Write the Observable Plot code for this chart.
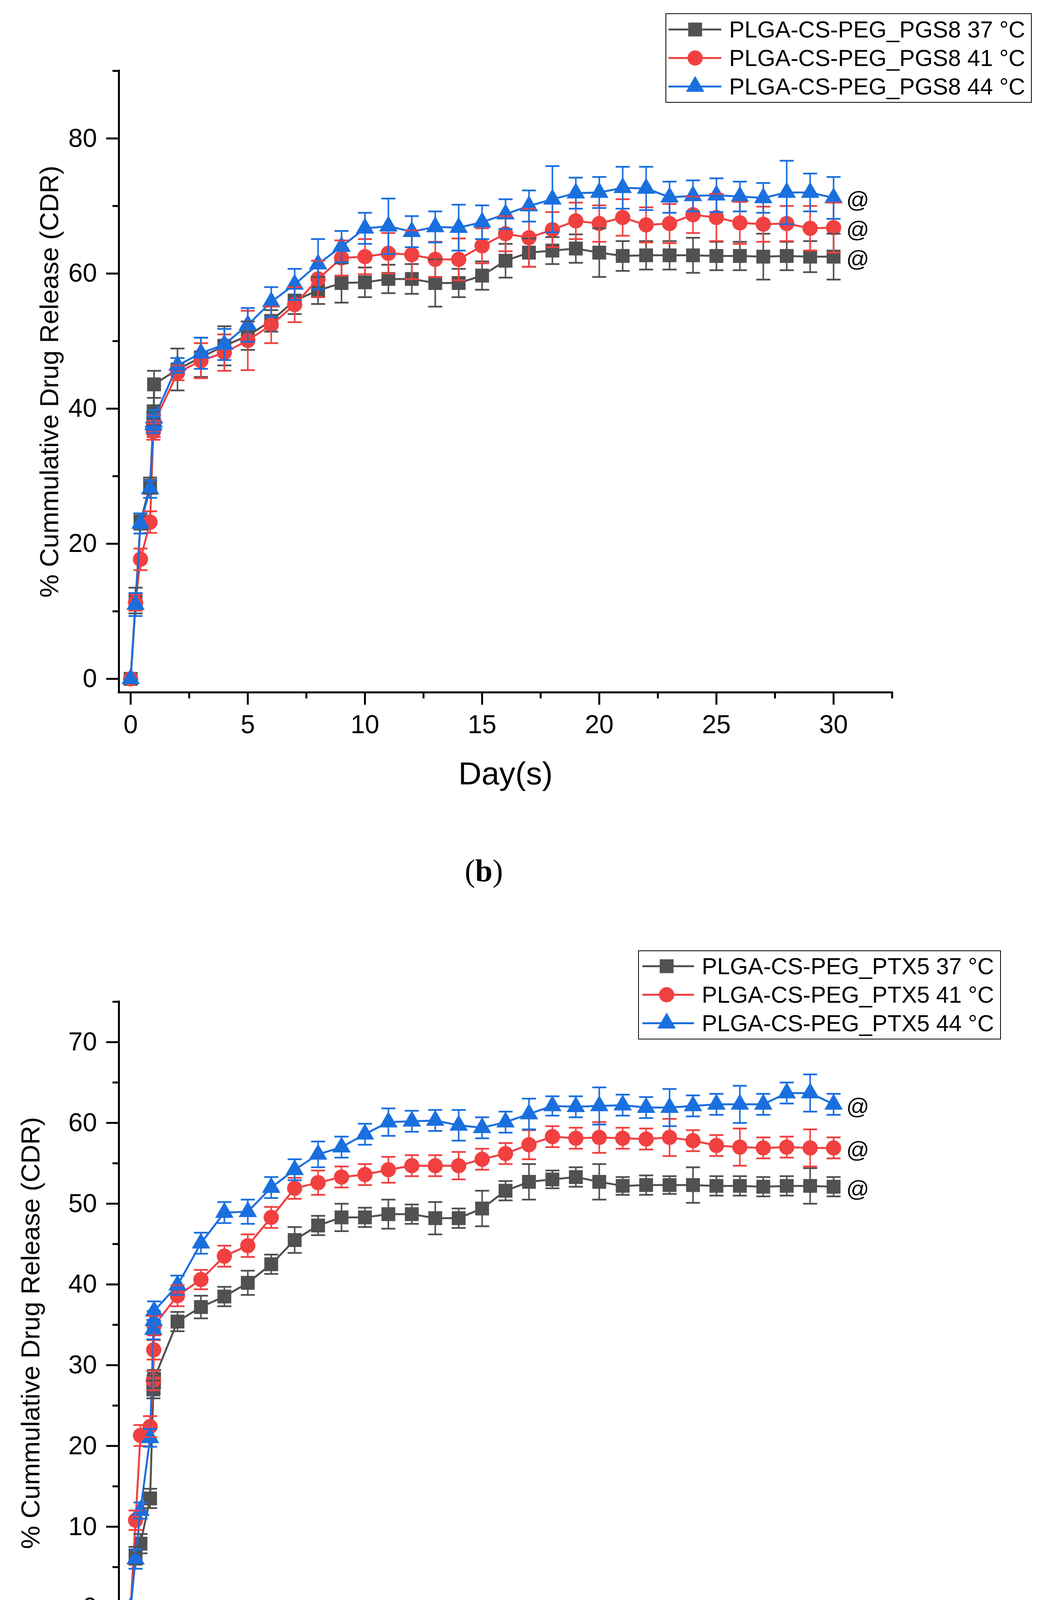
<!DOCTYPE html>
<html>
<head>
<meta charset="utf-8">
<script src="https://cdn.jsdelivr.net/npm/d3@7"></script>
<script src="https://cdn.jsdelivr.net/npm/@observablehq/plot@0.6"></script>
<style>
  body { margin: 0; background: #fff; }
  #page { position: relative; width: 2681px; height: 4687px; background: #fff; overflow: hidden;
          font-family: "Liberation Sans", Arial, sans-serif; color: #000; }
  .chart { position: absolute; left: 0; line-height: 0; }
  .legend { position: absolute; border: 2px solid #000; box-sizing: border-box; background: #fff; }
  .legend .row { display: flex; align-items: center; height: 73px; font-size: 59px; white-space: nowrap; }
  .legend svg { flex: none; }
  .caption { position: absolute; transform: translateX(-50%); white-space: nowrap;
             font: 80px/80px "Liberation Serif", "Times New Roman", serif; }
</style>
</head>
<body>
<div id="page"></div>
<script>
// sampling times (days); the first points are hours of day 0-1
const days = [0, 0.21, 0.42, 0.83, 0.97, 0.985, 1, 2, 3, 4, 5, 6, 7, 8, 9, 10,
  11, 12, 13, 14, 15, 16, 17, 18, 19, 20, 21, 22, 23, 24, 25, 26, 27, 28, 29, 30];

const temps = ["37 °C", "41 °C", "44 °C"];
const colors = ["#515151", "#F14040", "#1A6FDF"];
const symbols = ["square", "circle", "triangle"];
const markerR = [20, 19.5, 17.5];

// (b) PLGA-CS-PEG_PGS8
const pgs8_37 = [0, 11.6, 23.3, 28.6, 38.6, 39.5, 43.6, 45.8, 47.6, 49.3, 50.8, 53.0, 56.0, 57.5, 58.6, 58.7,
  59.2, 59.2, 58.6, 58.6, 59.7, 61.9, 63.1, 63.4, 63.7, 63.1, 62.6, 62.7, 62.7, 62.7, 62.6, 62.6, 62.5, 62.6, 62.5, 62.5];
const pgs8_37_sd = [0, 1.9, 1.2, 1.2, 1.0, 1.0, 2.0, 3.1, 2.9, 2.9, 2.1, 1.6, 2.0, 2.0, 2.9, 2.2,
  2.1, 2.2, 3.5, 2.1, 2.1, 2.5, 2.1, 2.0, 2.1, 3.6, 2.2, 2.1, 2.1, 2.6, 2.1, 2.1, 3.4, 2.1, 2.3, 3.4];
const pgs8_41 = [0, 11.3, 17.7, 23.2, 36.6, 37.0, 37.9, 45.3, 47.1, 48.3, 50.1, 52.4, 55.4, 59.2, 62.3, 62.5,
  63.0, 62.8, 62.1, 62.1, 64.1, 65.9, 65.3, 66.5, 67.8, 67.4, 68.3, 67.2, 67.4, 68.7, 68.3, 67.5, 67.3, 67.4, 66.7, 66.8];
const pgs8_41_sd = [0, 1.2, 1.6, 1.6, 1.2, 1.2, 1.2, 1.1, 2.6, 2.7, 4.4, 2.7, 2.6, 2.7, 2.6, 2.6,
  3.0, 3.6, 2.6, 3.1, 2.6, 2.6, 4.3, 2.6, 2.7, 2.7, 2.7, 2.6, 2.9, 2.7, 3.5, 3.1, 2.6, 2.6, 3.3, 3.7];
const pgs8_44 = [0, 11.0, 23.0, 28.1, 37.6, 38.0, 38.6, 46.4, 48.2, 49.5, 52.4, 55.8, 58.4, 61.4, 64.0, 66.7,
  67.0, 66.2, 66.9, 66.8, 67.6, 68.8, 70.0, 71.0, 71.9, 72.0, 72.7, 72.6, 71.3, 71.5, 71.6, 71.4, 71.2, 72.0, 72.0, 71.2];
const pgs8_44_sd = [0, 1.7, 1.5, 1.3, 1.2, 1.2, 1.2, 1.1, 2.3, 2.3, 2.5, 2.2, 2.3, 3.7, 2.3, 2.3,
  4.1, 2.3, 2.3, 3.4, 2.5, 2.2, 2.3, 4.9, 2.3, 2.3, 3.1, 3.2, 2.3, 2.3, 2.5, 2.2, 2.2, 4.7, 2.8, 3.1];

// (c) PLGA-CS-PEG_PTX5
const ptx5_37 = [0, 6.4, 7.9, 13.5, 27.0, 27.6, 28.3, 35.4, 37.2, 38.5, 40.2, 42.5, 45.5, 47.3, 48.3, 48.3,
  48.7, 48.7, 48.2, 48.2, 49.4, 51.6, 52.7, 53.0, 53.3, 52.7, 52.2, 52.3, 52.3, 52.3, 52.2, 52.2, 52.1, 52.2, 52.2, 52.1];
const ptx5_37_sd = [0, 1.1, 1.2, 1.2, 1.1, 1.1, 1.1, 1.2, 1.4, 1.2, 1.5, 1.2, 1.6, 1.2, 1.7, 1.2,
  1.8, 1.2, 2.0, 1.2, 2.2, 1.2, 2.2, 1.1, 1.2, 2.2, 1.1, 1.2, 1.1, 2.2, 1.2, 1.2, 1.2, 1.2, 2.2, 1.2];
const ptx5_41 = [0, 10.8, 21.3, 22.4, 28.1, 31.9, 34.9, 38.6, 40.6, 43.5, 44.8, 48.3, 51.9, 52.6, 53.3, 53.6,
  54.2, 54.7, 54.7, 54.7, 55.5, 56.2, 57.3, 58.3, 58.1, 58.2, 58.1, 58.0, 58.2, 57.8, 57.2, 57.0, 56.9, 57.0, 56.9, 56.9];
const ptx5_41_sd = [0, 1.2, 1.3, 1.3, 1.2, 1.2, 1.2, 1.3, 1.2, 1.3, 1.4, 1.3, 1.3, 1.5, 1.3, 1.3,
  1.6, 1.3, 1.3, 1.7, 1.3, 1.3, 1.8, 1.3, 1.3, 1.9, 1.3, 1.3, 2.3, 1.3, 1.3, 2.3, 1.3, 1.3, 2.3, 1.3];
const ptx5_44 = [0, 6.0, 12.0, 21.0, 34.4, 35.5, 36.7, 39.9, 45.1, 48.9, 49.0, 52.0, 54.2, 56.1, 57.0, 58.6,
  60.1, 60.2, 60.3, 59.7, 59.4, 60.1, 61.1, 62.1, 62.0, 62.1, 62.2, 61.9, 61.9, 62.1, 62.3, 62.3, 62.3, 63.7, 63.7, 62.3];
const ptx5_44_sd = [0, 1.2, 1.0, 1.1, 1.2, 1.2, 1.2, 1.2, 1.3, 1.3, 1.5, 1.3, 1.3, 1.6, 1.3, 1.3,
  1.7, 1.3, 1.3, 1.9, 1.3, 1.3, 1.9, 1.2, 1.3, 2.3, 1.3, 1.3, 2.3, 1.3, 1.3, 2.3, 1.3, 1.3, 2.3, 1.3];

const xDomain = [-0.5, 32.5];
const xMajor = [0, 5, 10, 15, 20, 25, 30];
const xMinor = [2.5, 7.5, 12.5, 17.5, 22.5, 27.5, 32.5];

const yLabel = "% Cummulative Drug Release (CDR)";
const xLabel = "Day(s)";

// horizontal bar used for the error bar caps
const capSymbol = {
  draw(ctx, size) {
    const h = Math.sqrt(size / Math.PI);
    ctx.moveTo(-h, 0);
    ctx.lineTo(h, 0);
  }
};

const page = document.getElementById("page");

function panel(p) {
  const series = p.means.map((m, i) => days.map((x, j) => ({x, y: m[j], e: p.sds[i][j]})));

  const marks = [];
  series.forEach((s, i) => {
    marks.push(
      Plot.line(s, {x: "x", y: "y", stroke: colors[i], strokeWidth: 5}),
      Plot.dot(s, {x: "x", y: "y", symbol: symbols[i], r: markerR[i], fill: colors[i], stroke: "none"})
    );
  });
  series.forEach((s, i) => {
    const bars = s.filter(d => d.e > 0);
    marks.push(
      Plot.ruleX(bars, {x: "x", y1: d => d.y - d.e, y2: d => d.y + d.e, stroke: colors[i], strokeWidth: 4}),
      Plot.dot(bars, {x: "x", y: d => d.y + d.e, symbol: capSymbol, r: 18, fill: "none", stroke: colors[i], strokeWidth: 4.5}),
      Plot.dot(bars, {x: "x", y: d => d.y - d.e, symbol: capSymbol, r: 18, fill: "none", stroke: colors[i], strokeWidth: 4.5})
    );
  });

  // "@" significance marks after the last point of each series
  marks.push(Plot.text(series.map(s => s[s.length - 1]), {
    x: "x", y: "y", text: () => "@", dx: 62, dy: 6, fontSize: 58, fill: "#000"
  }));

  marks.push(
    Plot.axisY(p.yMajor, {tickSize: 32, tickPadding: 24, fontSize: 66, strokeWidth: 5, label: null}),
    Plot.axisY(p.yMinor, {tickSize: 16, strokeWidth: 5, tickFormat: () => "", label: null}),
    Plot.axisX(xMajor, {tickSize: 32, tickPadding: 26, fontSize: 66, strokeWidth: 5, label: null}),
    Plot.axisX(xMinor, {tickSize: 16, strokeWidth: 5, tickFormat: () => "", label: null}),
    Plot.ruleX([xDomain[0]], {strokeWidth: 5, strokeLinecap: "square"}),
    Plot.ruleY([p.yDomain[0]], {strokeWidth: 5, strokeLinecap: "square"}),
    Plot.text([yLabel], {frameAnchor: "left", rotate: -90, dx: p.yLabelDx, dy: p.yLabelDy,
      textAnchor: "middle", lineAnchor: "bottom", fontSize: 67, fill: "#000"}),
    Plot.text([xLabel], {frameAnchor: "bottom", dy: 235, textAnchor: "middle", lineAnchor: "bottom", fontSize: 82, fill: "#000"})
  );

  const chart = Plot.plot({
    width: 2681,
    height: 2100,
    marginLeft: 304,
    marginRight: 397,
    marginTop: p.marginTop,
    marginBottom: p.marginBottom,
    x: {domain: xDomain, label: null},
    y: {domain: p.yDomain, label: null},
    style: {fontFamily: '"Liberation Sans", Arial, sans-serif', color: "#000", background: "#fff", overflow: "visible"},
    marks
  });

  const wrap = document.createElement("div");
  wrap.className = "chart";
  wrap.style.top = p.top + "px";
  wrap.append(chart);
  page.append(wrap);

  // legend box
  const lg = p.legend;
  const box = d3.select(page).append("div").attr("class", "legend")
    .style("left", lg.left + "px").style("top", lg.top + "px")
    .style("width", lg.width + "px").style("height", lg.height + "px")
    .style("padding-top", lg.padTop + "px");
  p.names.forEach((name, i) => {
    const row = box.append("div").attr("class", "row");
    const sw = row.append("svg").attr("width", lg.textX).attr("height", 73);
    sw.append("line").attr("x1", lg.lineX1).attr("x2", lg.lineX2).attr("y1", 36.5).attr("y2", 36.5)
      .attr("stroke", colors[i]).attr("stroke-width", 5);
    const type = [d3.symbolSquare, d3.symbolCircle, d3.symbolTriangle][i];
    sw.append("path").attr("d", d3.symbol(type, Math.PI * markerR[i] * markerR[i])())
      .attr("transform", `translate(${lg.markerX},36.5)`).attr("fill", colors[i]);
    row.append("span").text(name);
  });

  // panel caption
  d3.select(page).append("div").attr("class", "caption")
    .style("left", p.caption.x + "px").style("top", p.caption.top + "px")
    .html(`(<b>${p.caption.letter}</b>)`);
}

panel({
  means: [pgs8_37, pgs8_41, pgs8_44],
  sds: [pgs8_37_sd, pgs8_41_sd, pgs8_44_sd],
  names: temps.map(t => "PLGA-CS-PEG_PGS8 " + t),
  yDomain: [-2, 90],
  yMajor: [0, 20, 40, 60, 80],
  yMinor: [10, 30, 50, 70, 90],
  top: 0,
  marginTop: 181,
  marginBottom: 328,
  yLabelDx: -156,
  yLabelDy: 0,
  legend: {left: 1704, top: 34, width: 938, height: 229, padTop: 3, lineX1: 6, lineX2: 141, markerX: 74, textX: 161},
  caption: {letter: "b", x: 1239, top: 2189}
});

panel({
  means: [ptx5_37, ptx5_41, ptx5_44],
  sds: [ptx5_37_sd, ptx5_41_sd, ptx5_44_sd],
  names: temps.map(t => "PLGA-CS-PEG_PTX5 " + t),
  yDomain: [-2, 75],
  yMajor: [0, 10, 20, 30, 40, 50, 60, 70],
  yMinor: [5, 15, 25, 35, 45, 55, 65, 75],
  top: 2380,
  marginTop: 184,
  marginBottom: 324,
  yLabelDx: -204,
  yLabelDy: 52,
  legend: {left: 1634, top: 2433, width: 929, height: 228, padTop: 2, lineX1: 9, lineX2: 141, markerX: 71, textX: 161},
  caption: {letter: "c", x: 1245, top: 4573}
});
</script>
</body>
</html>
